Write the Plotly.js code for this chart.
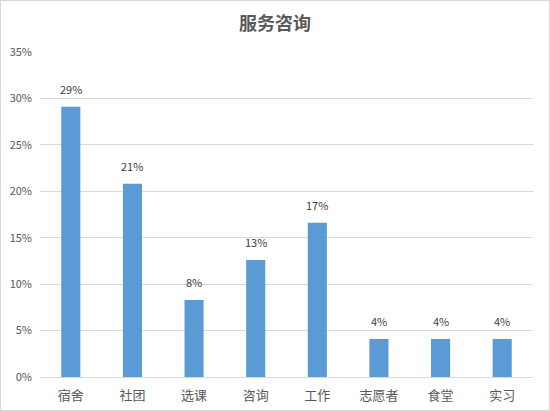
<!DOCTYPE html>
<html>
<head>
<meta charset="utf-8">
<script src="https://cdn.plot.ly/plotly-3.0.1.min.js"></script>
<style>
  body { margin: 0; background: #fff; }
  #chart { width: 548px; height: 409px; border: 1px solid #d9d9d9; }
</style>
</head>
<body>
<div id="chart"></div>
<script>
var categories = ["宿舍", "社团", "选课", "咨询", "工作", "志愿者", "食堂", "实习"];
var shares = [0.291, 0.208, 0.083, 0.126, 0.166, 0.041, 0.041, 0.041];
var yTicks = [0, 0.05, 0.10, 0.15, 0.20, 0.25, 0.30, 0.35];
var yTickLabels = ["0%", "5%", "10%", "15%", "20%", "25%", "30%", "35%"];

var CJK = "'Noto Sans CJK SC', 'Microsoft YaHei', sans-serif";

var trace1 = {
    type: "bar",
    x: categories,
    y: shares,
    marker: {color: "#5b9bd5"},
    hoverinfo: "none"
};

// value labels above bars
var labels = [];
for (let i = 0; i < categories.length; i++) {
    labels.push({
        x: categories[i],
        y: shares[i],
        text: Math.round(shares[i] * 100) + "%",
        showarrow: false,
        yanchor: "bottom",
        yshift: 8,
        font: {family: CJK, size: 11, color: "#404040"}
    });
}

var layout = {
    width: 548,
    height: 409,
    margin: {l: 39, r: 16, t: 51, b: 33},
    paper_bgcolor: "#ffffff",
    plot_bgcolor: "#ffffff",
    bargap: 0.69,
    showlegend: false,
    annotations: labels,
    title: {
        text: "<b>服务咨询</b>",
        font: {family: CJK, size: 18, color: "#595959"},
        x: 0.5,
        xanchor: "center",
        y: 0.945,
        yanchor: "middle"
    },
    xaxis: {
        type: "category",
        showgrid: false,
        showline: true,
        linecolor: "#d9d9d9",
        linewidth: 1,
        ticks: "",
        ticklabelstandoff: 6,
        tickfont: {family: CJK, size: 13, color: "#595959"}
    },
    yaxis: {
        range: [0, 0.35],
        tickvals: yTicks,
        ticktext: yTickLabels,
        showgrid: true,
        gridcolor: "#d9d9d9",
        gridwidth: 1,
        zeroline: false,
        showline: false,
        ticks: "",
        ticklabelstandoff: 7,
        tickfont: {family: CJK, size: 11, color: "#595959"}
    }
};

Plotly.newPlot(document.getElementById("chart"), [trace1], layout, {displayModeBar: false, staticPlot: true});
</script>
</body>
</html>
